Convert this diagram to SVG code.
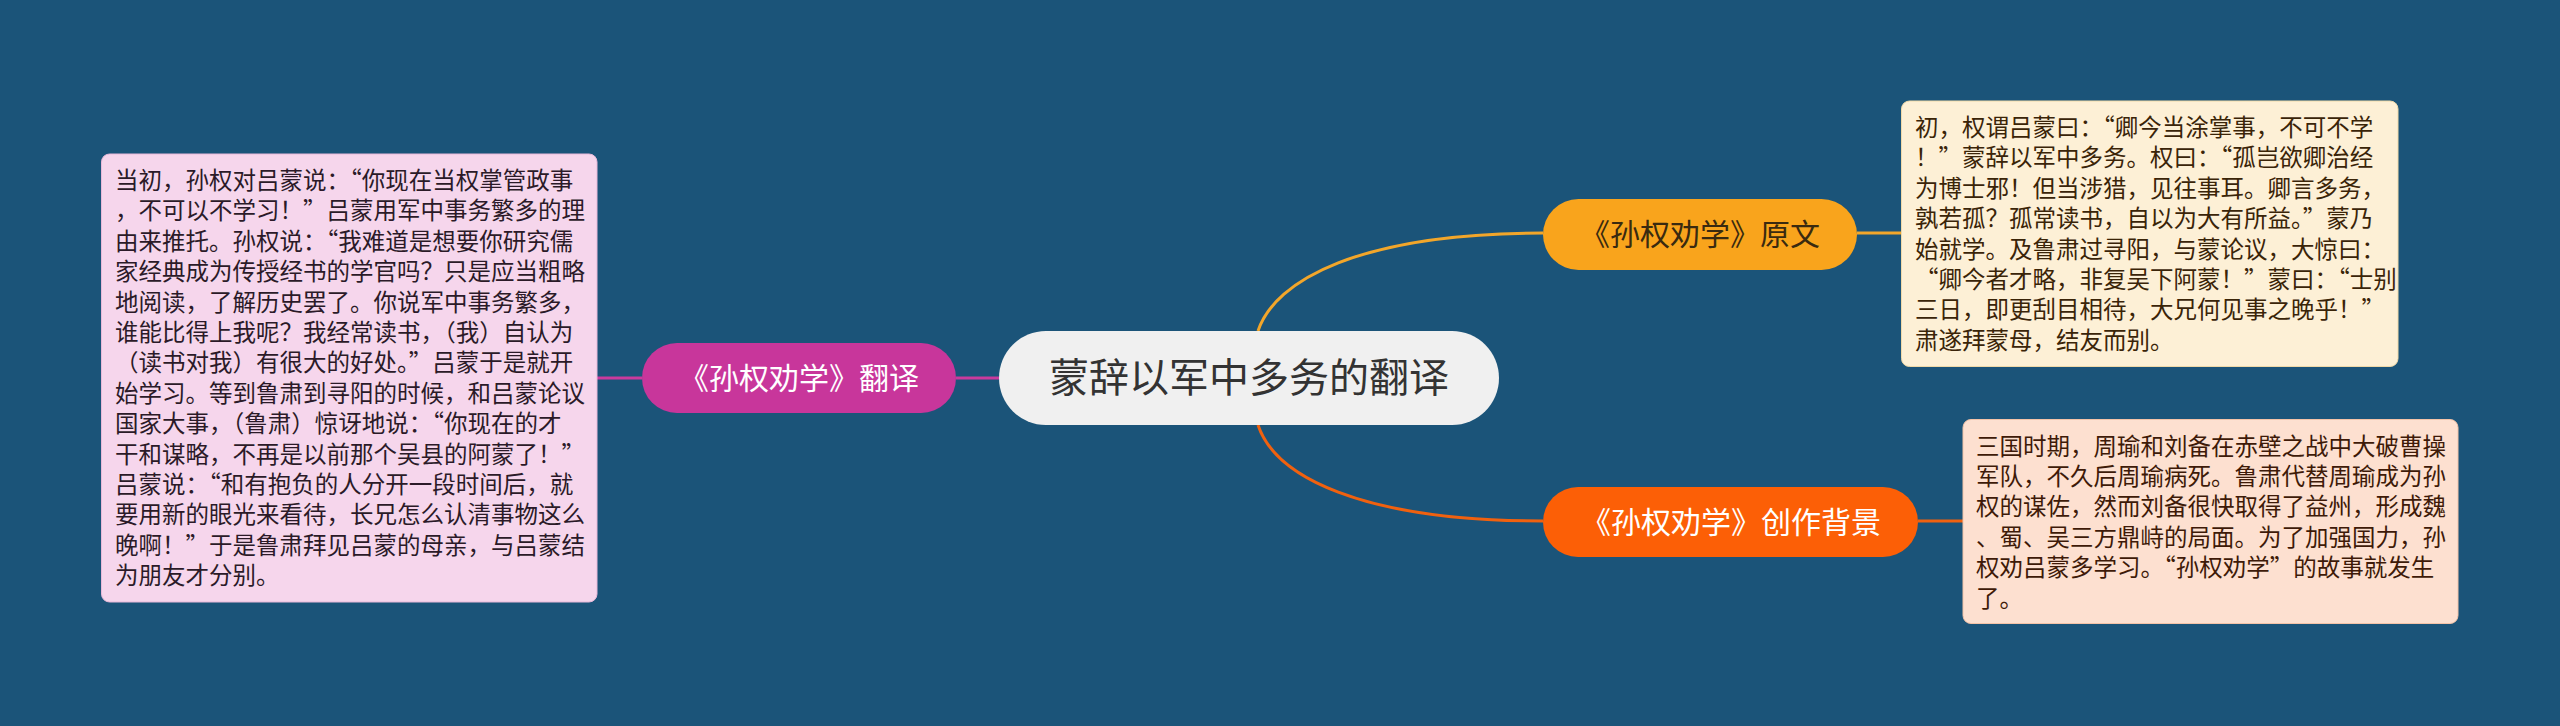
<svg xmlns="http://www.w3.org/2000/svg" width="2560" height="726" viewBox="0 0 2560 726">
<style>
.cjk{font-family:"Noto Sans CJK SC","Noto Sans",sans-serif;}
.box{font-size:23.5px;}
.conn{fill:none;stroke-width:3;}
</style>
<rect x="0" y="0" width="2560" height="726" fill="#1b5479"/>
<g id="connectors">
<path class="conn" stroke="#f2a62a" d="M1258,331 C1275,280 1360,233 1543,233"/>
<path class="conn" stroke="#f0610f" d="M1258,425 C1275,476 1360,521 1543,521"/>
<path class="conn" stroke="#c93a9d" d="M956,378 L999,378"/>
<path class="conn" stroke="#c93a9d" d="M597,378 L642,378"/>
<path class="conn" stroke="#f2a62a" d="M1857,233 L1902,233"/>
<path class="conn" stroke="#f0610f" d="M1918,521 L1963,521"/>
</g>
<g id="center">
<rect x="999" y="331" width="500" height="94" rx="47" fill="#f0f0f0"/>
<text class="cjk" x="1249" y="392" font-size="40" fill="#333333" text-anchor="middle">蒙辞以军中多务的翻译</text>
</g>
<g id="node-original">
<rect x="1543" y="199" width="314" height="71" rx="35.5" fill="#f9a41c"/>
<text class="cjk" x="1700" y="245" font-size="30" fill="#3a2a10" text-anchor="middle">《孙权劝学》原文</text>
</g>
<g id="node-background">
<rect x="1543" y="487" width="375" height="70" rx="35" fill="#fc5f06"/>
<text class="cjk" x="1731" y="533" font-size="30" fill="#ffffff" text-anchor="middle">《孙权劝学》创作背景</text>
</g>
<g id="node-translation">
<rect x="642" y="343" width="314" height="70" rx="35" fill="#c8369b"/>
<text class="cjk" x="799" y="389" font-size="30" fill="#ffffff" text-anchor="middle">《孙权劝学》翻译</text>
</g>
<g id="box-translation">
<rect x="101.5" y="154" width="495.5" height="448" rx="8" fill="#f6d6ec" stroke="#e8b9d9" stroke-width="1"/>
<text class="cjk box" x="115" y="189" fill="#2b1a28">
<tspan x="115" dy="0">当初，孙权对吕蒙说：“你现在当权掌管政事</tspan>
<tspan x="115" dy="30.4">，不可以不学习！”吕蒙用军中事务繁多的理</tspan>
<tspan x="115" dy="30.4">由来推托。孙权说：“我难道是想要你研究儒</tspan>
<tspan x="115" dy="30.4">家经典成为传授经书的学官吗？只是应当粗略</tspan>
<tspan x="115" dy="30.4">地阅读，了解历史罢了。你说军中事务繁多，</tspan>
<tspan x="115" dy="30.4">谁能比得上我呢？我经常读书，（我）自认为</tspan>
<tspan x="115" dy="30.4">（读书对我）有很大的好处。”吕蒙于是就开</tspan>
<tspan x="115" dy="30.4">始学习。等到鲁肃到寻阳的时候，和吕蒙论议</tspan>
<tspan x="115" dy="30.4">国家大事，（鲁肃）惊讶地说：“你现在的才</tspan>
<tspan x="115" dy="30.4">干和谋略，不再是以前那个吴县的阿蒙了！”</tspan>
<tspan x="115" dy="30.4">吕蒙说：“和有抱负的人分开一段时间后，就</tspan>
<tspan x="115" dy="30.4">要用新的眼光来看待，长兄怎么认清事物这么</tspan>
<tspan x="115" dy="30.4">晚啊！”于是鲁肃拜见吕蒙的母亲，与吕蒙结</tspan>
<tspan x="115" dy="30.4">为朋友才分别。</tspan>
</text>
</g>
<g id="box-original">
<rect x="1901.5" y="101" width="496.5" height="265.5" rx="8" fill="#fdf0d6" stroke="#f0d9a8" stroke-width="1"/>
<text class="cjk box" x="1915" y="136" fill="#3a2408">
<tspan x="1915" dy="0">初，权谓吕蒙曰：“卿今当涂掌事，不可不学</tspan>
<tspan x="1915" dy="30.4">！”蒙辞以军中多务。权曰：“孤岂欲卿治经</tspan>
<tspan x="1915" dy="30.4">为博士邪！但当涉猎，见往事耳。卿言多务，</tspan>
<tspan x="1915" dy="30.4">孰若孤？孤常读书，自以为大有所益。”蒙乃</tspan>
<tspan x="1915" dy="30.4">始就学。及鲁肃过寻阳，与蒙论议，大惊曰：</tspan>
<tspan x="1915" dy="30.4">“卿今者才略，非复吴下阿蒙！”蒙曰：“士别</tspan>
<tspan x="1915" dy="30.4">三日，即更刮目相待，大兄何见事之晚乎！”</tspan>
<tspan x="1915" dy="30.4">肃遂拜蒙母，结友而别。</tspan>
</text>
</g>
<g id="box-background">
<rect x="1963" y="419.5" width="495" height="204" rx="8" fill="#fde0d0" stroke="#f3c3a8" stroke-width="1"/>
<text class="cjk box" x="1976" y="454.5" fill="#3e1a08">
<tspan x="1976" dy="0">三国时期，周瑜和刘备在赤壁之战中大破曹操</tspan>
<tspan x="1976" dy="30.4">军队，不久后周瑜病死。鲁肃代替周瑜成为孙</tspan>
<tspan x="1976" dy="30.4">权的谋佐，然而刘备很快取得了益州，形成魏</tspan>
<tspan x="1976" dy="30.4">、蜀、吴三方鼎峙的局面。为了加强国力，孙</tspan>
<tspan x="1976" dy="30.4">权劝吕蒙多学习。“孙权劝学”的故事就发生</tspan>
<tspan x="1976" dy="30.4">了。</tspan>
</text>
</g>
</svg>
